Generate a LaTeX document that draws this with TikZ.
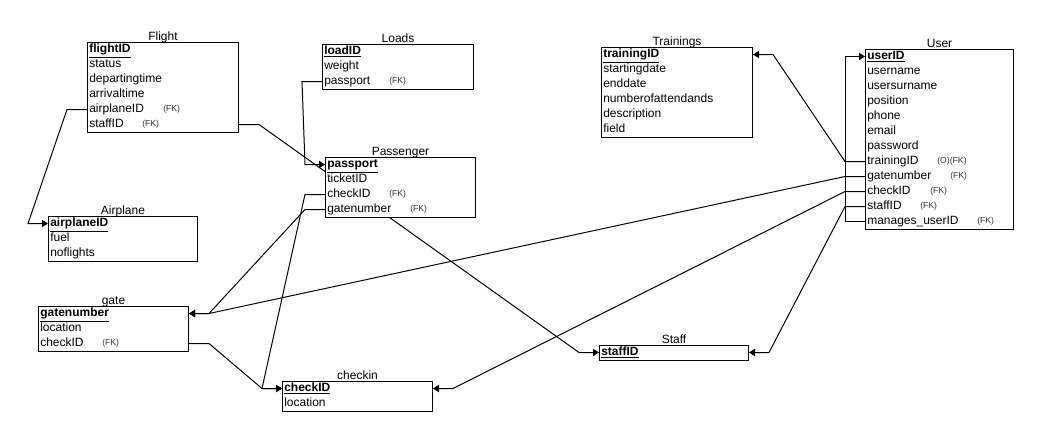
\documentclass[tikz,border=0pt]{standalone}
\usepackage{fontspec}
\setmainfont{Liberation Sans}
\usetikzlibrary{calc,arrows.meta}
\pgfdeclarelayer{links}
\pgfsetlayers{links,main}

\tikzset{
  tbl/.style n args={2}{draw, fill=white, line width=0.75pt, anchor=north west,
    inner sep=0pt, minimum width=#1*0.75pt, minimum height=#2*11.25pt},
  fld/.style={anchor=west, inner sep=0pt, font=\fontsize{9}{10}\selectfont,
    text height=6.5pt, text depth=1.8pt},
  fk/.style={anchor=west, inner sep=0pt, font=\fontsize{6.5}{7}\selectfont, text=black!80},
  ttl/.style={anchor=base, inner sep=0pt, font=\fontsize{9}{10}\selectfont},
  er/.style={line width=0.75pt, -{Triangle[length=4.5pt,width=5.5pt]}}
}

% one field row of a table: name, table, row number, text
\newcommand\erow[4]{\node[fld] (#1) at ($(#2.north west)+(2,{(#3-0.5)*15})$) {#4};}
% a small tag beside a field: name, x position, field, text
\newcommand\etag[4]{\node[fk] (#1) at (#2,0 |- #3) {#4};}
% a foreign-key link with short horizontal stubs at both ends
\newcommand\erlink[4]{\draw[er] (#1) -- ++(#2,0) -- ($(#3)+(#4,0)$) -- (#3);}
\newcommand\pk[1]{\underline{\textbf{#1}}}

\begin{document}
\begin{tikzpicture}[x=0.75pt,y=-0.75pt]
\useasboundingbox (0,0) rectangle (1041,436);

% Flight
\node[tbl={151}{6}] (flight) at (87,42) {};
\node[ttl] (tFlight) at ([yshift=1.5pt]flight.north) {Flight};
\erow{fID}{flight}{1}{\pk{flightID}}
\erow{fStatus}{flight}{2}{status}
\erow{fDep}{flight}{3}{departingtime}
\erow{fArr}{flight}{4}{arrivaltime}
\erow{fAir}{flight}{5}{airplaneID}
\erow{fStaff}{flight}{6}{staffID}
\etag{kfAir}{163}{fAir}{(FK)}
\etag{kfStaff}{142}{fStaff}{(FK)}

% Loads
\node[tbl={151}{3}] (loads) at (322,44) {};
\node[ttl] (tLoads) at ([yshift=1.5pt]loads.north) {Loads};
\erow{lID}{loads}{1}{\pk{loadID}}
\erow{lWeight}{loads}{2}{weight}
\erow{lPass}{loads}{3}{passport}
\etag{klPass}{389}{lPass}{(FK)}

% Passenger
\node[tbl={150}{4}] (pass) at (325,157) {};
\node[ttl] (tPass) at ([yshift=1.5pt]pass.north) {Passenger};
\erow{pPass}{pass}{1}{\pk{passport}}
\erow{pTicket}{pass}{2}{ticketID}
\erow{pCheck}{pass}{3}{checkID}
\erow{pGate}{pass}{4}{gatenumber}
\etag{kpCheck}{389}{pCheck}{(FK)}
\etag{kpGate}{410}{pGate}{(FK)}

% Airplane
\node[tbl={149}{3}] (plane) at (48,216) {};
\node[ttl] (tPlane) at ([yshift=1.5pt]plane.north) {Airplane};
\erow{aID}{plane}{1}{\pk{airplaneID}}
\erow{aFuel}{plane}{2}{fuel}
\erow{aNo}{plane}{3}{noflights}

% gate
\node[tbl={150}{3}] (gate) at (38,306) {};
\node[ttl] (tGate) at ([yshift=1.5pt]gate.north) {gate};
\erow{gNum}{gate}{1}{\pk{gatenumber}}
\erow{gLoc}{gate}{2}{location}
\erow{gCheck}{gate}{3}{checkID}
\etag{kgCheck}{102}{gCheck}{(FK)}

% checkin
\node[tbl={150}{2}] (checkin) at (282,381) {};
\node[ttl] (tCheckin) at ([yshift=1.5pt]checkin.north) {checkin};
\erow{cID}{checkin}{1}{\pk{checkID}}
\erow{cLoc}{checkin}{2}{location}

% Staff
\node[tbl={149}{1}] (staff) at (599,345) {};
\node[ttl] (tStaff) at ([yshift=1.5pt]staff.north) {Staff};
\erow{sID}{staff}{1}{\pk{staffID}}

% Trainings
\node[tbl={151}{6}] (train) at (601,47) {};
\node[ttl] (tTrain) at ([yshift=1.5pt]train.north) {Trainings};
\erow{tID}{train}{1}{\pk{trainingID}}
\erow{tStart}{train}{2}{startingdate}
\erow{tEnd}{train}{3}{enddate}
\erow{tNum}{train}{4}{numberofattendands}
\erow{tDesc}{train}{5}{description}
\erow{tField}{train}{6}{field}

% User
\node[tbl={148}{12}] (user) at (865,49) {};
\node[ttl] (tUser) at ([yshift=1.5pt]user.north) {User};
\erow{uID}{user}{1}{\pk{userID}}
\erow{uName}{user}{2}{username}
\erow{uSur}{user}{3}{usersurname}
\erow{uPos}{user}{4}{position}
\erow{uPhone}{user}{5}{phone}
\erow{uMail}{user}{6}{email}
\erow{uPwd}{user}{7}{password}
\erow{uTrain}{user}{8}{trainingID}
\erow{uGate}{user}{9}{gatenumber}
\erow{uCheck}{user}{10}{checkID}
\erow{uStaff}{user}{11}{staffID}
\erow{uMan}{user}{12}{manages\_userID}
\etag{kuTrain}{937}{uTrain}{(O)(FK)}
\etag{kuGate}{950}{uGate}{(FK)}
\etag{kuCheck}{930}{uCheck}{(FK)}
\etag{kuStaff}{920}{uStaff}{(FK)}
\etag{kuMan}{977}{uMan}{(FK)}

% relationships, drawn beneath the tables on a white page
\begin{pgfonlayer}{links}
\fill[white] (0,0) rectangle (1041,436);
\erlink{flight.west |- fAir}{-20}{plane.west |- aID}{-20}
\erlink{flight.east |- fStaff}{20}{staff.west |- sID}{-20}
\erlink{loads.west |- lPass}{-20}{pass.west |- pPass}{-20}
\erlink{pass.west |- pCheck}{-20}{checkin.west |- cID}{-20}
\erlink{pass.west |- pGate}{-20}{gate.east |- gNum}{20}
\erlink{gate.east |- gCheck}{20}{checkin.west |- cID}{-20}
\erlink{user.west |- uTrain}{-20}{train.east |- tID}{20}
\erlink{user.west |- uGate}{-20}{gate.east |- gNum}{20}
\erlink{user.west |- uCheck}{-20}{checkin.east |- cID}{20}
\erlink{user.west |- uStaff}{-20}{staff.east |- sID}{20}
\erlink{user.west |- uMan}{-20}{user.west |- uID}{-20}
\end{pgfonlayer}
\end{tikzpicture}
\end{document}
